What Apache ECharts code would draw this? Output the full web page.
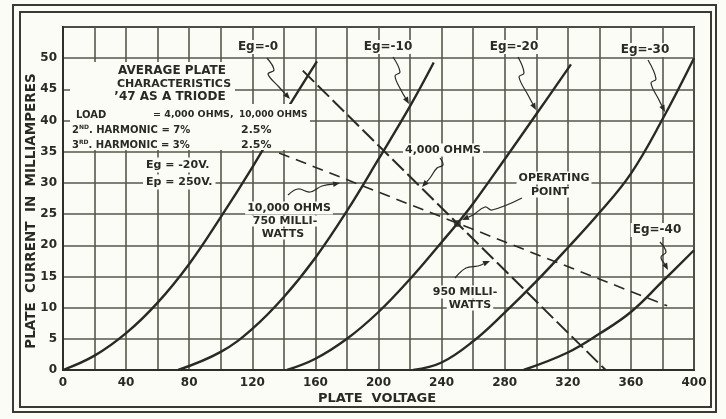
<!DOCTYPE html>
<html><head><meta charset="utf-8">
<script src="https://cdn.jsdelivr.net/npm/echarts@6/dist/echarts.min.js"></script>
<style>html,body{margin:0;padding:0;background:#fcfcf7}#c{width:726px;height:419px}</style>
</head><body><div id="c"></div>
<script>
// ---- data (plate voltage V, plate current mA) ----
const eg0   = [[0,0],[20,2.3],[40,5.9],[60,10.8],[80,17],[100,24.5],[120,32.5],[140,41],[161,49.5]];
const eg10  = [[73,0],[100,2.9],[120,6.6],[140,11.7],[160,18],[180,25.5],[200,33.8],[220,42.3],[235,49.3]];
const eg20  = [[142,0],[160,1.8],[180,5],[200,9.3],[220,14.6],[240,20.5],[250,23.5],[260,26.7],[280,33.8],[300,41],[322,49]];
const eg30  = [[222,0],[240,1.2],[260,4.6],[280,9.2],[300,14.2],[320,19.6],[340,25.2],[360,31.5],[380,40.2],[400,50]];
const eg40  = [[292,0],[320,2.8],[340,5.8],[360,9.3],[380,14.2],[400,19.2]];
const load4000  = [[152,48],[344,0]];
const load10000 = [[137,34.8],[383,10.3]];
const operatingPoint = [[250,23.5]];
const xTickLabels = [0,40,80,120,160,200,240,280,320,360,400];
const yTickLabels = [0,5,10,15,20,25,30,35,40,45,50];

const INK = '#2a2a24';
const GRIDC = '#56584b';
const BG = '#fcfcf7';
const F = '"DejaVu Sans", "Liberation Sans", sans-serif';

const chart = echarts.init(document.getElementById('c'), null, {renderer:'canvas'});

function curve(name, data){
  return {type:'line', name, data, smooth:0.4, showSymbol:false, symbol:'none',
    lineStyle:{color:INK, width:2.4}, z:3, animation:false};
}
function txt(text, x, y, size, opts){
  opts = opts || {};
  return {type:'text', z:100, style:Object.assign({text, x, y, font:'bold '+size+'px '+F, fill:INK,
    align:opts.align||'center', verticalAlign:'middle',
    backgroundColor: opts.bg===false?null:BG, padding: opts.pad||[1,2]}, opts.style||{})};
}
function leader(pts){
  const n=pts.length, a=pts[n-2], b=pts[n-1];
  const dx=b[0]-a[0], dy=b[1]-a[1], L=Math.hypot(dx,dy), ux=dx/L, uy=dy/L;
  const len=7, w=2.8;
  const base=[b[0]-ux*len, b[1]-uy*len];
  const line = pts.slice(0,n-1).concat([base]);
  return [
    {type:'polyline', z:101, shape:{points:line, smooth:0.4}, style:{stroke:INK, lineWidth:1.2, fill:null}},
    {type:'polygon', z:101, shape:{points:[b,[base[0]-uy*w,base[1]+ux*w],[base[0]+uy*w,base[1]-ux*w]]}, style:{fill:INK}}
  ];
}

const graphics = [
  {type:'rect', z:0, shape:{x:13,y:5,width:703,height:407}, style:{stroke:'#3a3a33', lineWidth:2, fill:null}},
  {type:'rect', z:0, shape:{x:20,y:12,width:691,height:395}, style:{stroke:'#3a3a33', lineWidth:2, fill:null}},
  // white-outs behind the lettering
  {type:'rect', z:99, shape:{x:70,y:62,width:165,height:88}, style:{fill:BG}},
  {type:'rect', z:99, shape:{x:233,y:104,width:77,height:46}, style:{fill:BG}},
  txt('AVERAGE PLATE', 172, 71, 12, {bg:false}),
  txt('CHARACTERISTICS', 174, 84, 11, {bg:false}),
  txt('\u201947 AS A TRIODE', 170, 97, 12, {bg:false}),
  txt('LOAD', 74, 115, 10, {align:'left', bg:false}),
  txt('= 4,000 OHMS,', 151, 115, 9.5, {align:'left', bg:false}),
  txt('10,000 OHMS', 237, 115, 9, {align:'left', bg:false}),
  {type:'text', z:100, style:{text:'2{s|ND}. HARMONIC = 7%', x:72, y:130, font:'bold 10px '+F, fill:INK, align:'left', verticalAlign:'middle',
     rich:{s:{fontSize:6, fontWeight:'bold', fontFamily:'DejaVu Sans', verticalAlign:'top', lineHeight:12}}}},
  {type:'text', z:100, style:{text:'3{s|RD}. HARMONIC = 3%', x:72, y:145, font:'bold 10px '+F, fill:INK, align:'left', verticalAlign:'middle',
     rich:{s:{fontSize:6, fontWeight:'bold', fontFamily:'DejaVu Sans', verticalAlign:'top', lineHeight:12}}}},
  txt('2.5%', 239, 130, 11, {align:'left', bg:false}),
  txt('2.5%', 239, 145, 11, {align:'left', bg:false}),
  txt('Eg = -20V.', 143, 165, 11, {align:'left', pad:[2,3]}),
  txt('Ep = 250V.', 143, 182, 11, {align:'left', pad:[2,3]}),
  txt('Eg=-0', 258, 47, 12),
  txt('Eg=-10', 388, 47, 12),
  txt('Eg=-20', 514, 47, 12),
  txt('Eg=-30', 645, 50, 12),
  txt('Eg=-40', 657, 230, 12),
  txt('4,000 OHMS', 443, 150, 11),
  txt('OPERATING', 554, 178, 11),
  txt('POINT', 550, 192, 11, {pad:[0,2]}),
  txt('10,000 OHMS', 289, 208, 11, {pad:[1,2]}),
  txt('750 MILLI-', 285, 221, 11, {pad:[0,2]}),
  txt('WATTS', 283, 234, 11, {pad:[0,2]}),
  txt('950 MILLI-', 465, 292, 11, {pad:[1,2]}),
  txt('WATTS', 470, 305, 11, {pad:[0,2]}),
  txt('PLATE  VOLTAGE', 377, 399, 13, {bg:false}),
  {type:'text', z:100, rotation:Math.PI/2, x:31, y:211,
    style:{text:'PLATE  CURRENT  IN  MILLIAMPERES', x:0, y:0, font:'bold 13.5px '+F, fill:INK, align:'center', verticalAlign:'middle'}},
].concat(
  leader([[267,58],[274,70],[268,74],[279,87],[290,99]]),
  leader([[393,57],[400,72],[395,76],[402,92],[409,104]]),
  leader([[518,57],[524,73],[519,77],[528,95],[536,110]]),
  leader([[648,60],[656,79],[651,83],[659,100],[665,112]]),
  leader([[660,242],[666,252],[661,257],[668,270]]),
  leader([[440,158],[443,165],[437,168],[430,178],[422,187]]),
  leader([[522,198],[492,210],[485,207],[473,215],[462,220]]),
  leader([[288,195],[298,189],[310,192],[322,186],[340,183]]),
  leader([[455,278],[466,268],[478,266],[490,261]])
);

chart.setOption({
  backgroundColor: BG,
  animation:false,
  grid:{left:63, right:32, top:27, bottom:49, show:true, borderColor:'#2e2f28', borderWidth:2, backgroundColor:BG},
  xAxis:{type:'value', min:0, max:400, interval:20,
    axisLine:{show:true, lineStyle:{color:'#2e2f28', width:2}}, axisTick:{show:false},
    splitLine:{show:true, lineStyle:{color:GRIDC, width:1.6}},
    axisLabel:{margin:7, color:INK, fontFamily:'DejaVu Sans', fontWeight:'bold', fontSize:12,
      formatter:v => xTickLabels.indexOf(v) >= 0 ? String(v) : ''}},
  yAxis:{type:'value', min:0, max:55, interval:5,
    axisLine:{show:true, lineStyle:{color:'#2e2f28', width:2}}, axisTick:{show:false},
    splitLine:{show:true, lineStyle:{color:GRIDC, width:1.6}},
    axisLabel:{margin:6, color:INK, fontFamily:'DejaVu Sans', fontWeight:'bold', fontSize:12,
      formatter:v => yTickLabels.indexOf(v) >= 0 ? String(v) : ''}},
  series:[
    curve('Eg=0', eg0), curve('Eg=-10', eg10), curve('Eg=-20', eg20), curve('Eg=-30', eg30), curve('Eg=-40', eg40),
    {type:'line', name:'4000 ohms', data:load4000, symbol:'none', z:3, lineStyle:{color:INK, width:2, type:[16,5]}},
    {type:'line', name:'10000 ohms', data:load10000, symbol:'none', z:3, lineStyle:{color:INK, width:1.6, type:[11,7]}},
    {type:'scatter', name:'operating point', data:operatingPoint, symbolSize:7, itemStyle:{color:INK}, z:4}
  ],
  graphic: graphics
});
</script></body></html>
